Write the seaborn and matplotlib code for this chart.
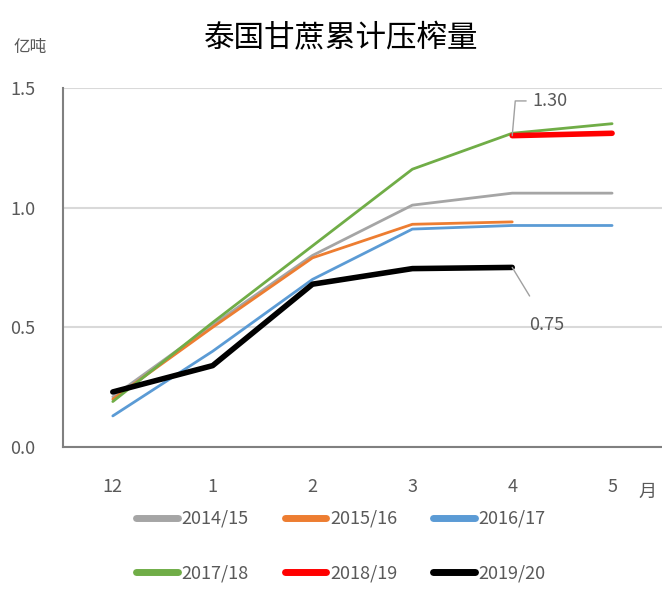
import numpy as np
import pandas as pd
import seaborn as sb
import matplotlib.pyplot as plt
from matplotlib.lines import Line2D

months = ['12', '1', '2', '3', '4', '5']
seasons = ['2014/15', '2015/16', '2016/17', '2017/18', '2018/19', '2019/20']
s1415 = [0.21, 0.51, 0.80, 1.01, 1.06, 1.06]
s1516 = [0.20, 0.50, 0.79, 0.93, 0.94, np.nan]
s1617 = [0.13, 0.40, 0.70, 0.91, 0.925, 0.925]
s1718 = [0.19, 0.52, 0.84, 1.16, 1.31, 1.35]
s1819 = [np.nan, np.nan, np.nan, np.nan, 1.30, 1.31]
s1920 = [0.23, 0.34, 0.68, 0.745, 0.75, np.nan]
colors = ['#A5A5A5', '#ED7D31', '#5B9BD5', '#70AD47', '#FF0000', '#000000']
widths = [2.0, 2.0, 2.0, 2.0, 4.0, 4.0]

values = [s1415, s1516, s1617, s1718, s1819, s1920]
df = pd.DataFrame({
    'pos': np.tile(np.arange(len(months)), len(seasons)),
    'value': np.concatenate(values),
    'season': np.repeat(seasons, len(months)),
}).dropna()

sb.set_style('white')
plt.rcParams['font.family'] = ['Noto Sans CJK SC', 'DejaVu Sans']

fig = plt.figure(figsize=(6.62, 5.89), dpi=100)
ax = fig.add_axes([0.095, 0.241, 0.905, 0.61])

for name, c, w in zip(seasons, colors, widths):
    sb.lineplot(data=df[df['season'] == name], x='pos', y='value',
                color=c, linewidth=w, ax=ax, legend=False,
                solid_capstyle='round')

ax.set_xlim(-0.5, 5.5)
ax.set_ylim(0, 1.5)
ax.set_yticks([0.0, 0.5, 1.0, 1.5])
ax.set_yticklabels(['0.0', '0.5', '1.0', '1.5'])
ax.set_xticks(range(len(months)))
ax.set_xticklabels(months)
ax.set_xticks(np.arange(-0.5, 5.6, 1), minor=True)
ax.tick_params(axis='x', which='major', length=0, pad=22, labelsize=13, labelcolor='#595959')
ax.tick_params(axis='x', which='minor', length=6, color='#808080', width=1.2)
ax.tick_params(axis='y', length=4, color='#808080', labelsize=13, labelcolor='#595959', pad=16)
ax.set_xlabel('')
ax.set_ylabel('')
ax.yaxis.grid(True, color='#D9D9D9', linewidth=1.5)
ax.set_axisbelow(True)
for sp in ['top', 'right']:
    ax.spines[sp].set_visible(False)
for sp in ['left', 'bottom']:
    ax.spines[sp].set_color('#808080')
    ax.spines[sp].set_linewidth(1.5)

ax.annotate('1.30', xy=(4, s1819[4]), xytext=(4.2, 1.445), fontsize=13, color='#595959',
            va='center', ha='left',
            arrowprops=dict(arrowstyle='-', color='#A0A0A0', lw=1,
                            connectionstyle='angle,angleA=0,angleB=85,rad=0',
                            shrinkA=2, shrinkB=0))
ax.annotate('0.75', xy=(4, s1920[4]), xytext=(4.35, 0.51), fontsize=13, color='#595959',
            va='center', ha='center',
            arrowprops=dict(arrowstyle='-', color='#A0A0A0', lw=1,
                            shrinkA=14, shrinkB=0))

fig.text(0.515, 0.935, '泰国甘蔗累计压榨量', fontsize=22, ha='center', va='center', color='#000000')
fig.text(0.045, 0.92, '亿吨', fontsize=12, ha='center', va='center', color='#595959')
fig.text(0.978, 0.165, '月', fontsize=13, ha='center', va='center', color='#595959')

handles = [Line2D([], [], color=c, linewidth=5, solid_capstyle='round') for c in colors]
order = [0, 3, 1, 4, 2, 5]
fig.legend([handles[i] for i in order], [seasons[i] for i in order], ncol=3,
           loc='center', bbox_to_anchor=(0.515, 0.073), frameon=False,
           fontsize=13, labelcolor='#595959', handlelength=2.3, handletextpad=0.2,
           columnspacing=2.0, labelspacing=2.0)

plt.savefig('out.png', dpi=100)
plt.close()
